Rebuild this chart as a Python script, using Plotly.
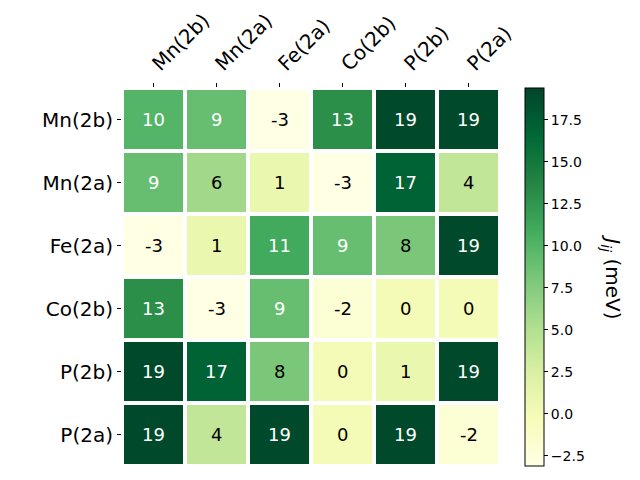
import plotly.graph_objects as go

labels = ["Mn(2b)", "Mn(2a)", "Fe(2a)", "Co(2b)", "P(2b)", "P(2a)"]
values = [
    [10, 9, -3, 13, 19, 19],
    [9, 6, 1, -3, 17, 4],
    [-3, 1, 11, 9, 8, 19],
    [13, -3, 9, -2, 0, 0],
    [19, 17, 8, 0, 1, 19],
    [19, 4, 19, 0, 19, -2],
]
zmin, zmax = -3.1, 19.4
cbar_ticks = [-2.5, 0.0, 2.5, 5.0, 7.5, 10.0, 12.5, 15.0, 17.5]

fig = go.Figure()
fig.add_trace(go.Heatmap(
    z=values, x=labels, y=labels,
    colorscale="YlGn", zmin=zmin, zmax=zmax,
    xgap=4, ygap=4,
    colorbar=dict(
        x=1.066, xanchor="left", y=0.5, yanchor="middle",
        len=1.0, lenmode="fraction", thickness=19,
        outlinewidth=1, outlinecolor="black",
        ticks="outside", ticklen=4, tickcolor="black",
        tickvals=cbar_ticks, ticktext=[("%.1f" % t).replace("-", "\u2212") for t in cbar_ticks],
        tickfont=dict(family="DejaVu Sans", size=14, color="black"),
        xpad=0, ypad=0,
    ),
    hoverinfo="skip",
))

mid = (zmin + zmax) / 2
annotations = []
for i, row_label in enumerate(labels):
    for j, col_label in enumerate(labels):
        v = values[i][j]
        annotations.append(dict(
            x=col_label, y=row_label, xref="x", yref="y",
            text=str(v), showarrow=False,
            font=dict(family="DejaVu Sans", size=18,
                      color="white" if v > mid else "black"),
        ))
annotations.append(dict(
    x=1.335, y=0.5, xref="paper", yref="paper",
    text="<i>J</i><sub><i>ij</i></sub> (meV)", textangle=90,
    showarrow=False, font=dict(family="DejaVu Sans", size=20, color="black"),
))

fig.update_layout(
    width=640, height=480,
    margin=dict(l=122, r=140, t=88, b=14, autoexpand=False),
    paper_bgcolor="white", plot_bgcolor="white",
    annotations=annotations,
    xaxis=dict(side="top", tickangle=-45, ticks="outside", ticklen=4,
               tickcolor="black", showgrid=False, zeroline=False,
               showline=False, automargin=False,
               tickfont=dict(family="DejaVu Sans", size=20, color="black")),
    yaxis=dict(autorange="reversed", ticks="outside", ticklen=4,
               tickcolor="black", showgrid=False, zeroline=False,
               showline=False, automargin=False,
               tickfont=dict(family="DejaVu Sans", size=20, color="black")),
)

fig.write_html("out.html")
